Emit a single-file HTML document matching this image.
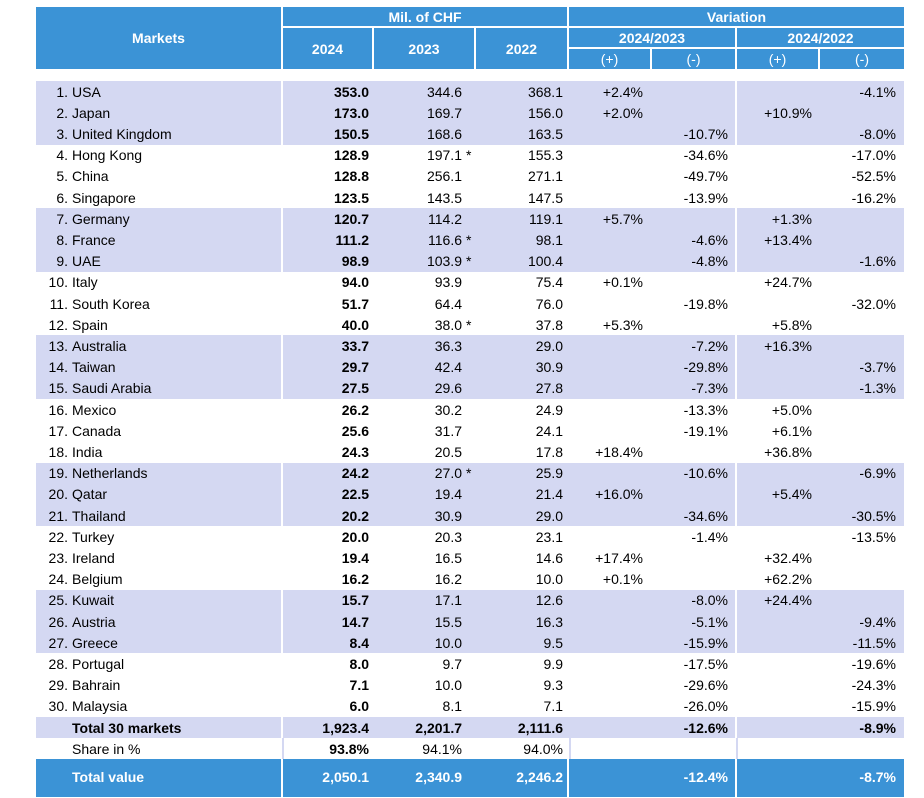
<!DOCTYPE html>
<html><head><meta charset="utf-8"><style>
body{margin:0;width:924px;height:798px;background:#fff;font-family:"Liberation Sans",sans-serif;position:relative;overflow:hidden;color:#000}
.a{position:absolute;box-sizing:border-box}
.h{background:#3b93d6;color:#fff;font-weight:bold;font-size:14px;display:flex;align-items:center;justify-content:center}
.t{position:absolute;font-size:14px;white-space:nowrap;line-height:20px}
.r{text-align:right}
.b{font-weight:bold}
</style></head><body>
<div class="a h" style="left:36px;top:7px;width:245px;height:62px">Markets</div>
<div class="a h" style="left:283px;top:7px;width:284px;height:19px">Mil. of CHF</div>
<div class="a h" style="left:283px;top:28px;width:89px;height:41px">2024</div>
<div class="a h" style="left:374px;top:28px;width:100px;height:41px">2023</div>
<div class="a h" style="left:476px;top:28px;width:91px;height:41px">2022</div>
<div class="a h" style="left:569px;top:7px;width:335px;height:19px">Variation</div>
<div class="a h" style="left:569px;top:28px;width:166px;height:19px">2024/2023</div>
<div class="a h" style="left:737px;top:28px;width:167px;height:19px">2024/2022</div>
<div class="a h" style="left:569px;top:49px;width:81px;height:20px;font-weight:normal">(+)</div>
<div class="a h" style="left:652px;top:49px;width:83px;height:20px;font-weight:normal">(-)</div>
<div class="a h" style="left:737px;top:49px;width:81px;height:20px;font-weight:normal">(+)</div>
<div class="a h" style="left:820px;top:49px;width:84px;height:20px;font-weight:normal">(-)</div>
<div id="body"></div>
<script>
const markets=["USA","Japan","United Kingdom","Hong Kong","China","Singapore","Germany","France","UAE","Italy","South Korea","Spain","Australia","Taiwan","Saudi Arabia","Mexico","Canada","India","Netherlands","Qatar","Thailand","Turkey","Ireland","Belgium","Kuwait","Austria","Greece","Portugal","Bahrain","Malaysia"];
const v2024=["353.0","173.0","150.5","128.9","128.8","123.5","120.7","111.2","98.9","94.0","51.7","40.0","33.7","29.7","27.5","26.2","25.6","24.3","24.2","22.5","20.2","20.0","19.4","16.2","15.7","14.7","8.4","8.0","7.1","6.0"];
const v2023=["344.6","169.7","168.6","197.1","256.1","143.5","114.2","116.6","103.9","93.9","64.4","38.0","36.3","42.4","29.6","30.2","31.7","20.5","27.0","19.4","30.9","20.3","16.5","16.2","17.1","15.5","10.0","9.7","10.0","8.1"];
const star2023=[0,0,0,1,0,0,0,1,1,0,0,1,0,0,0,0,0,0,1,0,0,0,0,0,0,0,0,0,0,0];
const v2022=["368.1","156.0","163.5","155.3","271.1","147.5","119.1","98.1","100.4","75.4","76.0","37.8","29.0","30.9","27.8","24.9","24.1","17.8","25.9","21.4","29.0","23.1","14.6","10.0","12.6","16.3","9.5","9.9","9.3","7.1"];
const var23=["+2.4%","+2.0%","-10.7%","-34.6%","-49.7%","-13.9%","+5.7%","-4.6%","-4.8%","+0.1%","-19.8%","+5.3%","-7.2%","-29.8%","-7.3%","-13.3%","-19.1%","+18.4%","-10.6%","+16.0%","-34.6%","-1.4%","+17.4%","+0.1%","-8.0%","-5.1%","-15.9%","-17.5%","-29.6%","-26.0%"];
const var22=["-4.1%","+10.9%","-8.0%","-17.0%","-52.5%","-16.2%","+1.3%","+13.4%","-1.6%","+24.7%","-32.0%","+5.8%","+16.3%","-3.7%","-1.3%","+5.0%","+6.1%","+36.8%","-6.9%","+5.4%","-30.5%","-13.5%","+32.4%","+62.2%","+24.4%","-9.4%","-11.5%","-19.6%","-24.3%","-15.9%"];
const body=document.getElementById('body');
const RH=21.2,TOP=81;
function txt(s,x,y,right,bold,name){
  const d=document.createElement('div');
  d.className='t'+(bold?' b':'');
  d.textContent=s;
  if(right){d.style.right=(924-x)+'px';d.style.textAlign='right';}else d.style.left=x+'px';
  d.style.top=(y+0.6)+'px';
  
  
  body.appendChild(d);return d;
}
function band(y,h,color,name){
  [[36,245],[283,452],[737,167]].forEach((s,i)=>{
    const b=document.createElement('div');b.className='a';
    b.style.cssText=`left:${s[0]}px;top:${y}px;width:${s[1]}px;height:${h}px;background:${color}`;
    
    
    body.appendChild(b);
  });
}
for(let g=0;g<10;g+=2) band(TOP+g*3*RH,3*RH,'#d4d8f2','row-band');
for(let i=0;i<markets.length;i++){
  const y=TOP+i*RH;
  txt((i+1)+'.',68,y,true,false,'rank');
  txt(markets[i],72,y,false,false,'market-name');
  txt(v2024[i],369,y,true,true,'value-2024');
  txt(v2023[i],462,y,true,false,'value-2023');
  if(star2023[i]) txt('*',466,y,false,false,'estimate-star');
  txt(v2022[i],563,y,true,false,'value-2022');
  txt(var23[i],var23[i][0]=='+'?643:728,y,true,false,'variation-2024-2023');
  txt(var22[i],var22[i][0]=='+'?812:896,y,true,false,'variation-2024-2022');
}
const yT=TOP+30*RH;
band(yT,21,'#d4d8f2','total-band');
txt('Total 30 markets',72,yT,false,true,'total-label');
txt('1,923.4',369,yT,true,true,'total-2024');
txt('2,201.7',462,yT,true,true,'total-2023');
txt('2,111.6',563,yT,true,true,'total-2022');
txt('-12.6%',728,yT,true,true,'total-var-2023');
txt('-8.9%',896,yT,true,true,'total-var-2022');
const yS=yT+21;
[[282,2],[569,2],[736,2]].forEach(s=>{const b=document.createElement('div');b.className='a';b.style.cssText=`left:${s[0]}px;top:${yS}px;width:${s[1]}px;height:21px;background:#d4d8f2`;body.appendChild(b);});
txt('Share in %',72,yS,false,false,'share-label');
txt('93.8%',369,yS,true,true,'share-2024');
txt('94.1%',462,yS,true,false,'share-2023');
txt('94.0%',563,yS,true,false,'share-2022');
const yV=yS+21;
[[36,245],[283,284],[569,166],[737,167]].forEach(s=>{const b=document.createElement('div');b.className='a';b.style.cssText=`left:${s[0]}px;top:${yV}px;width:${s[1]}px;height:${797-yV}px;background:#3b93d6`;body.appendChild(b);});
const yc=yV+7;
[['Total value',72,false],['2,050.1',369,true],['2,340.9',462,true],['2,246.2',563,true],['-12.4%',728,true],['-8.7%',896,true]].forEach(a=>{const d=txt(a[0],a[1],yc,a[2],true,'total-value');d.style.color='#fff';});
</script>
</body></html>
